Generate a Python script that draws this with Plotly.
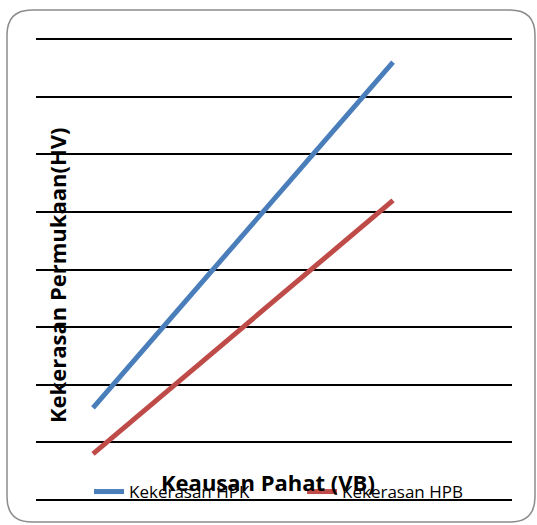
import plotly.graph_objects as go

# Data
vb = [0.1, 0.3]
hv_hpk = [80, 380]
hv_hpb = [40, 260]
series_names = ["Kekerasan HPK", "Kekerasan HPB"]
x_title = "Keausan Pahat (VB)"
y_title = "Kekerasan Permukaan(HV)"

FONT = "Open Sans"

fig = go.Figure()
fig.add_trace(go.Scatter(x=vb, y=hv_hpk, mode="lines", name=series_names[0],
                         line=dict(color="#4a7ebb", width=5)))
fig.add_trace(go.Scatter(x=vb, y=hv_hpb, mode="lines", name=series_names[1],
                         line=dict(color="#be4b48", width=5)))

W, H = 537, 525
L, R, T, B = 36, 25, 36, 22
pw, ph = W - L - R, H - T - B
pad = 3 / (461 / 400)  # y-range padding so edge gridlines stay visible

def px(x):
    return (x - L) / pw

def py(y):
    return (H - B - y) / ph

# rounded border
x0, x1, y0, y1 = px(7), px(535), py(522), py(10)
rx, ry = 25 / pw, 25 / ph
path = (f"M {x0+rx},{y1} L {x1-rx},{y1} Q {x1},{y1} {x1},{y1-ry} "
        f"L {x1},{y0+ry} Q {x1},{y0} {x1-rx},{y0} L {x0+rx},{y0} "
        f"Q {x0},{y0} {x0},{y0+ry} L {x0},{y1-ry} Q {x0},{y1} {x0+rx},{y1} Z")
fig.add_shape(type="path", path=path, xref="paper", yref="paper",
              line=dict(color="#8c8c8c", width=1.5), layer="above")

fig.add_annotation(text=f"<b>{x_title}</b>", xref="paper", yref="paper",
                   x=px(268), y=py(482), xanchor="center", yanchor="middle",
                   showarrow=False,
                   font=dict(family=FONT, size=22, color="#000"))
fig.add_annotation(text=f"<b>{y_title}</b>", xref="paper", yref="paper",
                   x=px(57), y=py(275), xanchor="center", yanchor="middle",
                   showarrow=False, textangle=-90,
                   font=dict(family=FONT, size=22, color="#000"))

fig.update_layout(
    width=W, height=H,
    margin=dict(l=L, r=R, t=T, b=B),
    paper_bgcolor="white", plot_bgcolor="white",
    font=dict(family=FONT, size=17, color="#000"),
    showlegend=True,
    legend=dict(orientation="h", x=px(89), y=py(492), xanchor="left", yanchor="middle",
                bgcolor="rgba(0,0,0,0)", font=dict(family=FONT, size=17),
                entrywidth=168, entrywidthmode="pixels",
                tracegroupgap=0),
    xaxis=dict(range=[0.062, 0.3793], showgrid=False, showticklabels=False,
               zeroline=False, showline=False, ticks=""),
    yaxis=dict(range=[-pad, 400 + pad], tick0=0, dtick=50, showgrid=True,
               gridcolor="#000", gridwidth=1.5, showticklabels=False,
               zeroline=False, showline=False, ticks=""),
)

fig.write_html("out.html")
